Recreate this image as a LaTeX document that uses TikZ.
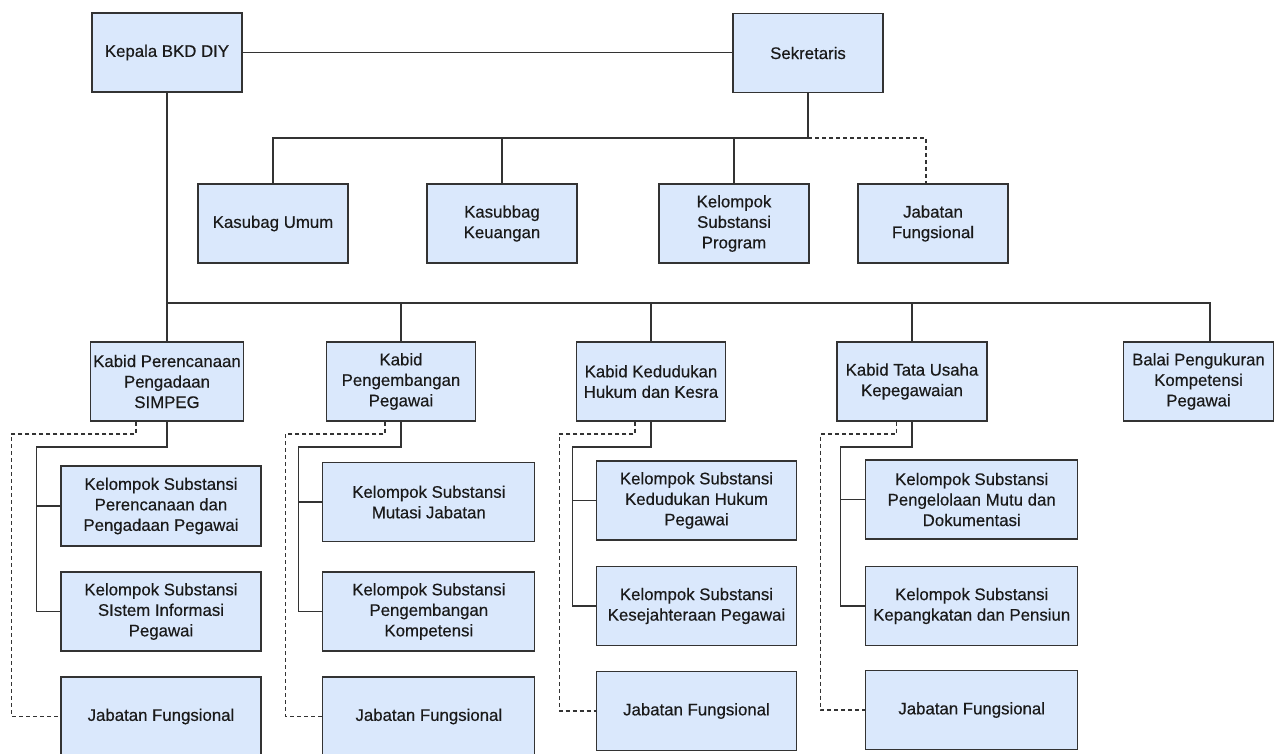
\documentclass[tikz,border=0pt]{standalone}
\usepackage{fontspec}
\setmainfont{Liberation Sans}[FakeBold=0.4]
\definecolor{boxfill}{HTML}{DAE8FC}
\definecolor{linec}{HTML}{333333}
\definecolor{textc}{HTML}{1A1A1A}
\begin{document}
\begin{tikzpicture}[x=1pt,y=-1pt,
  box/.style={draw=linec, fill=boxfill, line width=1.2pt, inner sep=0pt, align=center,
    text=textc, font=\fontsize{16.8}{20.5}\selectfont, minimum height=79pt},
  w150/.style={minimum width=150pt},
  w200/.style={minimum width=200pt},
  w212/.style={minimum width=212pt},
  conn/.style={draw=linec, line width=1.2pt},
  dconn/.style={draw=linec, line width=1.1pt, dash pattern=on 4pt off 3pt}]
\useasboundingbox (0,0) rectangle (1281,754);

% top level
\node[box,w150] (kepala) at (167,52.5) {Kepala BKD DIY};
\node[box,w150] (sek) at (808,53) {Sekretaris};

% secretariat
\node[box,w150] (umum) at (273,223.5) {Kasubag Umum};
\node[box,w150] (keu) at (502,223.5) {Kasubbag\\Keuangan};
\node[box,w150] (prog) at (734,223.5) {Kelompok\\Substansi\\Program};
\node[box,w150] (jfs) at (933,223.5) {Jabatan\\Fungsional};

% kabid row
\node[box,minimum width=153pt] (kb1) at (167,381.5) {Kabid Perencanaan\\Pengadaan\\SIMPEG};
\node[box,minimum width=149pt] (kb2) at (401,381.5) {Kabid\\Pengembangan\\Pegawai};
\node[box,minimum width=149pt] (kb3) at (651,381.5) {Kabid Kedudukan\\Hukum dan Kesra};
\node[box,w150] (kb4) at (912,381.5) {Kabid Tata Usaha\\Kepegawaian};
\node[box,w150] (balai) at (1198.5,381.5) {Balai Pengukuran\\Kompetensi\\Pegawai};

% column 1
\node[box,w200,minimum height=80pt] (c1a) at (161,506) {Kelompok Substansi\\Perencanaan dan\\Pengadaan Pegawai};
\node[box,w200] (c1b) at (161,611.5) {Kelompok Substansi\\SIstem Informasi\\Pegawai};
\node[box,w200] (c1j) at (161,716.5) {Jabatan Fungsional};

% column 2
\node[box,w212] (c2a) at (428.85,502) {Kelompok Substansi\\Mutasi Jabatan};
\node[box,w212] (c2b) at (428.85,611.5) {Kelompok Substansi\\Pengembangan\\Kompetensi};
\node[box,w212] (c2j) at (428.85,716.5) {Jabatan Fungsional};

% column 3
\node[box,w200] (c3a) at (696.5,500.5) {Kelompok Substansi\\Kedudukan Hukum\\Pegawai};
\node[box,w200] (c3b) at (696.5,606) {Kelompok Substansi\\Kesejahteraan Pegawai};
\node[box,w200] (c3j) at (696.5,711) {Jabatan Fungsional};

% column 4
\node[box,w212] (c4a) at (971.7,499.5) {Kelompok Substansi\\Pengelolaan Mutu dan\\Dokumentasi};
\node[box,w212] (c4b) at (971.7,606) {Kelompok Substansi\\Kepangkatan dan Pensiun};
\node[box,w212] (c4j) at (971.7,710) {Jabatan Fungsional};

% connectors: top
\draw[conn] (kepala.east) -- (sek.west |- kepala.east);
\coordinate (sbus) at (808,138);
\draw[conn] (sek.south) -- (sbus) -| (umum.north);
\draw[conn] (sbus) -| (keu.north);
\draw[conn] (sbus) -| (prog.north);
\draw[dconn] (sbus) -| ([xshift=-7pt]jfs.north);

% main bus
\coordinate (mbus) at (167,303);
\draw[conn] (kepala.south) -- (kb1.north);
\draw[conn] (mbus) -| (kb2.north);
\draw[conn] (mbus) -| (kb3.north);
\draw[conn] (mbus) -| (kb4.north);
\draw[conn] (mbus) -| ([xshift=11.5pt]balai.north);

% column 1 links
\coordinate (t1) at (36.5,447);
\draw[conn] (kb1.south) |- (t1) |- (c1b.west);
\draw[conn] (t1 |- c1a.west) -- (c1a.west);
\coordinate (d1) at (11.5,434);
\draw[dconn] ([xshift=-31pt]kb1.south) |- (d1) |- (c1j.west);

% column 2 links
\coordinate (t2) at (298.5,447);
\draw[conn] (kb2.south) |- (t2) |- (c2b.west);
\draw[conn] (t2 |- c2a.west) -- (c2a.west);
\coordinate (d2) at (285.5,434);
\draw[dconn] ([xshift=-16pt]kb2.south) |- (d2) |- (c2j.west);

% column 3 links
\coordinate (t3) at (572.5,447);
\draw[conn] (kb3.south) |- (t3) |- (c3b.west);
\draw[conn] (t3 |- c3a.west) -- (c3a.west);
\coordinate (d3) at (559.5,434);
\draw[dconn] ([xshift=-16pt]kb3.south) |- (d3) |- (c3j.west);

% column 4 links
\coordinate (t4) at (840.5,447);
\draw[conn] (kb4.south) |- (t4) |- (c4b.west);
\draw[conn] (t4 |- c4a.west) -- (c4a.west);
\coordinate (d4) at (820.5,434);
\draw[dconn] ([xshift=-15.5pt]kb4.south) |- (d4) |- (c4j.west);
\end{tikzpicture}
\end{document}
